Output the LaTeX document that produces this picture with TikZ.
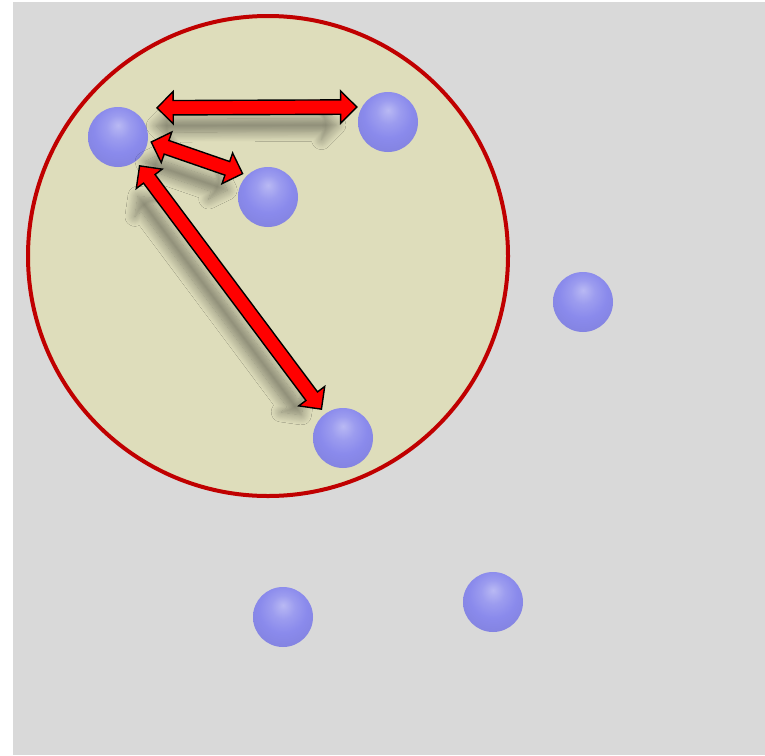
\documentclass[tikz,border=0pt]{standalone}
\usetikzlibrary{calc,shapes.arrows,shadows.blur}
\definecolor{paper}{HTML}{D9D9D9}
\definecolor{clusterfill}{HTML}{DEDDBB}
\definecolor{clusterline}{HTML}{C00000}
\definecolor{ballblue}{HTML}{8A8AEC}
\definecolor{linkred}{HTML}{FF0000}
\pgfdeclareradialshading{sphere}{\pgfpoint{0bp}{10bp}}{%
 color(0bp)=(ballblue!60!white);color(10bp)=(ballblue!85!white);color(20bp)=(ballblue);
 color(42bp)=(ballblue!90!black);color(50bp)=(ballblue!60!black);color(60bp)=(ballblue!45!black)}
\tikzset{
 point/.style={circle,minimum size=60pt,inner sep=0pt,shading=sphere},
 cluster/.style={circle,minimum size=480pt,inner sep=0pt,draw=clusterline,fill=clusterfill,line width=4pt},
 fatarrow/.style={double arrow,draw=black,fill=linkred,line width=1.4pt,inner xsep=0pt,inner ysep=6.5pt,
  double arrow head extend=9pt,double arrow tip angle=90,
  blur shadow={shadow xshift=-12pt,shadow yshift=-20pt,shadow blur radius=11pt,shadow opacity=42,shadow scale=.9,shadow blur steps=14}},
}
\newcommand{\fatlink}[2]{
 \path let \p1=($(#2)-(#1)$), \n1={atan2(\y1,\x1)}, \n2={veclen(\x1,\y1)} in
  node[fatarrow,minimum height=\n2,rotate=\n1] at ($(#1)!.5!(#2)$) {};
}

\begin{document}
\begin{tikzpicture}[x=1pt,y=-1pt]

\useasboundingbox (0,0) rectangle (765,755);
\fill[white] (0,0) rectangle (765,755);
\fill[paper] (13,2) rectangle (765,755);
\node[cluster] (group) at (268,256) {};
% points
\node[point] (p1) at (118,137) {};
\node[point] (p2) at (388,122) {};
\node[point] (p3) at (268,197) {};
\node[point] (p4) at (583,302) {};
\node[point] (p5) at (343,438) {};
\node[point] (p6) at (283,617) {};
\node[point] (p7) at (493,602) {};
% distances from p1
\coordinate (a1) at ([shift={(39,1)}]p1.north);
\coordinate (a2) at ([shift={(-1,-15)}]p2.west);
\coordinate (b1) at ([shift={(3,5)}]p1.east);
\coordinate (b2) at ([shift={(-4,-2)}]p3.north west);
\coordinate (c1) at ($(p1)!36pt!(p5)$);
\coordinate (c2) at ($(p5)!36pt!(p1)$);
\fatlink{a1}{a2}
\fatlink{b1}{b2}
\fatlink{c1}{c2}

\end{tikzpicture}
\end{document}
